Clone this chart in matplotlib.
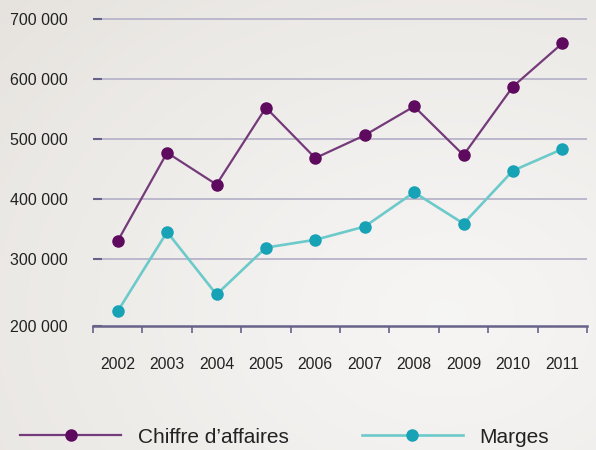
import numpy as np
import matplotlib.pyplot as plt
from matplotlib.ticker import FixedLocator

plt.rcParams['font.family'] = ['Liberation Sans', 'DejaVu Sans']

years = ['2002', '2003', '2004', '2005', '2006', '2007', '2008', '2009', '2010', '2011']
chiffre = [330000, 477000, 424000, 552000, 468000, 506000, 554000, 473000, 587000, 659000]
marges = [213000, 345000, 241000, 319000, 332000, 354000, 411000, 359000, 447000, 483000]
grid_vals = [300000, 400000, 500000, 600000, 700000]
y_labels = ['200 000', '300 000', '400 000', '500 000', '600 000', '700 000']

purple_line = '#743a7a'
purple_dot = '#5e0a5e'
teal_line = '#6ccaca'
teal_dot = '#17a2b6'
axis_col = '#66628a'
grid_col = '#bcb8cc'

fig = plt.figure(figsize=(5.96, 4.5), dpi=100)

# soft background, lighter towards lower right
bg = fig.add_axes([0, 0, 1, 1], zorder=-10)
yy, xx = np.mgrid[0:1:200j, 0:1:260j]
r = np.sqrt((xx - 0.75) ** 2 + (yy - 0.3) ** 2)
r = np.clip(r / 1.0, 0, 1)
c0 = np.array([0.965, 0.962, 0.957])
c1 = np.array([0.905, 0.893, 0.875])
img = c0 + (c1 - c0) * r[..., None] ** 1.2
bg.imshow(img, origin='lower', extent=[0, 1, 0, 1], aspect='auto')
bg.axis('off')

ax = fig.add_axes([93 / 596, 124 / 450, 494 / 596, 314.5 / 450])
ax.patch.set_alpha(0)
y_bottom = 188500
ax.set_ylim(y_bottom, 712000)
ax.set_xlim(-0.5, len(years) - 0.5)

x = np.arange(len(years))
l1, = ax.plot(x, chiffre, color=purple_line, lw=1.6, marker='o', ms=8,
              mfc=purple_dot, mec=purple_dot, label='Chiffre d\u2019affaires', zorder=3)
l2, = ax.plot(x, marges, color=teal_line, lw=1.9, marker='o', ms=8,
              mfc=teal_dot, mec=teal_dot, label='Marges', zorder=3)

for v in grid_vals:
    ax.axhline(v, color=grid_col, lw=1.4, zorder=1)

for s in ['left', 'right', 'top']:
    ax.spines[s].set_visible(False)
ax.spines['bottom'].set_color(axis_col)
ax.spines['bottom'].set_linewidth(1.8)

ax.yaxis.set_major_locator(FixedLocator([y_bottom] + grid_vals))
ax.set_yticklabels(y_labels)
ax.tick_params(axis='y', direction='in', length=6.5, width=1.5, color=axis_col,
               pad=18, labelsize=11.5, labelcolor='#222222')

ax.set_xticks(x)
ax.set_xticklabels(years)
ax.set_xticks(np.arange(len(years) + 1) - 0.5, minor=True)
ax.tick_params(axis='x', which='major', length=0, pad=22, labelsize=11.3, labelcolor='#222222')
ax.tick_params(axis='x', which='minor', length=5, width=1.2, color=axis_col, direction='out')

fig.legend(handles=[l1, l2], loc='lower left', bbox_to_anchor=(12 / 596, -5 / 450),
           ncol=2, frameon=False, fontsize=15, handlelength=4.85, handletextpad=0.8,
           columnspacing=3.5, numpoints=1, borderaxespad=0, labelcolor='#222222')

fig.savefig('out.png', dpi=100)
